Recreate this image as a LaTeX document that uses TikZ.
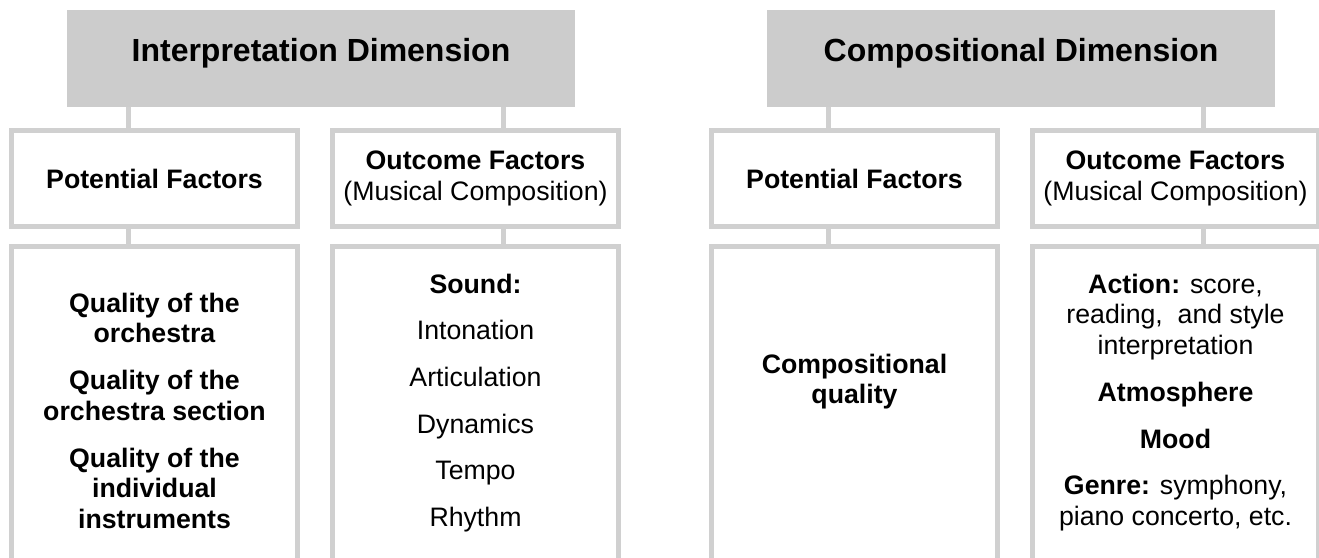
\documentclass[tikz,border=0pt]{standalone}
\usepackage{fontspec}
\setmainfont{Liberation Sans}
\usepackage{tikz}
\usetikzlibrary{shapes}

\definecolor{boxgray}{RGB}{204,204,204}
\definecolor{linegray}{RGB}{208,208,208}
\newcommand{\factorfont}{\fontsize{26.7}{30.7}\selectfont}
\newcommand{\dimfont}{\fontsize{32}{38}\selectfont\bfseries}

\begin{document}
\begin{tikzpicture}[x=1pt,y=-1pt,
		dimbox/.style={fill=boxgray,minimum width=508pt,minimum height=97pt,inner sep=0pt,text height=23pt,text depth=16.5pt,font=\dimfont},
		factorbox/.style={draw=linegray,line width=5pt,fill=white,minimum width=286pt,minimum height=96pt,inner sep=0pt,align=center,font=\factorfont},
		listbox/.style={draw=linegray,line width=5pt,minimum width=286pt,minimum height=323.5pt,inner sep=0pt},
		listtext/.style={align=center,inner sep=0pt,font=\factorfont},
		link/.style={draw=linegray,line width=5pt}]
		\useasboundingbox (0,0) rectangle (1319,557);
		% interpretation dimension
		\node[dimbox] (IntDim) at (321,58.5) {Interpretation Dimension};
		\node[factorbox] (IntPot) at (154.5,178.5) {\textbf{Potential Factors}};
		\node[factorbox] (IntOut) at (475.5,178.5) {\textbf{Outcome Factors}\\(Musical Composition)};
		\node[listbox] (IntPotList) at (154.5,408.25) {};
		\node[listbox] (IntOutList) at (475.5,408.25) {};
		\node[listtext] (IntPotText) at (154.5,410.8) {\textbf{Quality of the}\\\textbf{orchestra}\\[16pt]\textbf{Quality of the}\\\textbf{orchestra section}\\[16pt]\textbf{Quality of the}\\\textbf{individual}\\\textbf{instruments}};
		\node[listtext] (IntOutText) at (475.5,403) {\textbf{Sound:}\\[16pt]Intonation\\[16pt]Articulation\\[16pt]Dynamics\\[16pt]Tempo\\[16pt]Rhythm};
		\draw[link] ([xshift=-26.5pt]IntPot.north) -- ([xshift=-26.5pt]IntPot.north |- IntDim.south);
		\draw[link] ([xshift=27.5pt]IntOut.north) -- ([xshift=27.5pt]IntOut.north |- IntDim.south);
		\draw[link] ([xshift=-26.5pt]IntPot.south) -- ([xshift=-26.5pt]IntPot.south |- IntPotList.north);
		\draw[link] ([xshift=27.5pt]IntOut.south) -- ([xshift=27.5pt]IntOut.south |- IntOutList.north);
		% compositional dimension
		\node[dimbox] (CompDim) at (1021,58.5) {Compositional Dimension};
		\node[factorbox] (CompPot) at (854.5,178.5) {\textbf{Potential Factors}};
		\node[factorbox] (CompOut) at (1175.5,178.5) {\textbf{Outcome Factors}\\(Musical Composition)};
		\node[listbox] (CompPotList) at (854.5,408.25) {};
		\node[listbox] (CompOutList) at (1175.5,408.25) {};
		\node[listtext] (CompPotText) at (854.5,381.5) {\textbf{Compositional}\\\textbf{quality}};
		\node[listtext] (CompOutText) at (1175.5,402.4) {\textbf{Action:} score,\\reading,~ and style\\interpretation\\[16pt]\textbf{Atmosphere}\\[16pt]\textbf{Mood}\\[16pt]\textbf{Genre:} symphony,\\piano concerto, etc.};
		\draw[link] ([xshift=-26.5pt]CompPot.north) -- ([xshift=-26.5pt]CompPot.north |- CompDim.south);
		\draw[link] ([xshift=27.5pt]CompOut.north) -- ([xshift=27.5pt]CompOut.north |- CompDim.south);
		\draw[link] ([xshift=-26.5pt]CompPot.south) -- ([xshift=-26.5pt]CompPot.south |- CompPotList.north);
		\draw[link] ([xshift=27.5pt]CompOut.south) -- ([xshift=27.5pt]CompOut.south |- CompOutList.north);
	\end{tikzpicture}
\end{document}
